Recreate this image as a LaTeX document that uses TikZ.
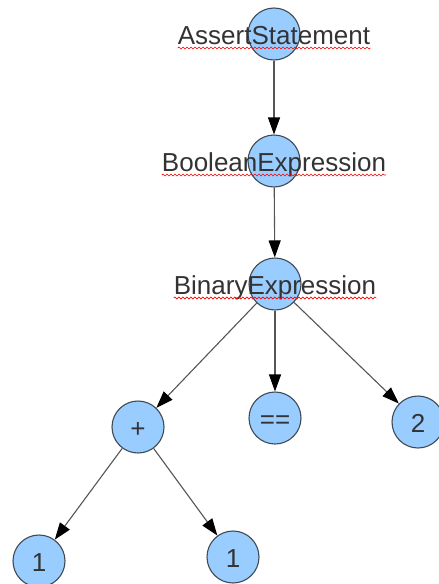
\documentclass[tikz,border=0pt]{standalone}
\usepackage{fontspec}
\setmainfont{Liberation Sans}
\usetikzlibrary{arrows.meta,decorations.pathmorphing}
\definecolor{nodefill}{HTML}{99CCFF}
\definecolor{nodeline}{HTML}{3F4A55}
\definecolor{labeltext}{HTML}{333333}
\definecolor{edgeline}{HTML}{555555}
\begin{document}
\begin{tikzpicture}[x=1pt,y=-1pt,
  treenode/.style={circle,draw=nodeline,line width=1.1pt,fill=nodefill,
    minimum size=52pt,inner sep=0pt},
  nodetext/.style={anchor=base,inner sep=0pt,text=labeltext,
    font=\fontsize{26}{30}\selectfont},
  conn/.style={draw=edgeline,line width=1.1pt,
    -{Triangle[length=17pt,width=12pt,fill=black,color=black]}},
  wave/.style={draw=red,line width=0.6pt,decorate,
    decoration={snake,amplitude=1pt,segment length=4pt}}]
\useasboundingbox (0,0) rectangle (439,584);

% tree nodes
\node[treenode] (assert) at (274,34) {};
\node[treenode] (bool)   at (274,161) {};
\node[treenode] (binary) at (275,284) {};
\node[treenode] (plus)   at (138,427) {};
\node[treenode] (eq)     at (275,418) {};
\node[treenode] (two)    at (418,422) {};
\node[treenode] (oneL)   at (39,561) {};
\node[treenode] (oneR)   at (233,557) {};

% edges
\draw[conn] (assert) -- (bool);
\draw[conn] (bool) -- (binary);
\draw[conn] (binary) -- (plus);
\draw[conn] (binary) -- (eq);
\draw[conn] (binary) -- (two);
\draw[conn] (plus) -- (oneL);
\draw[conn] (plus) -- (oneR);

% labels over the nodes
\node[nodetext] (assertT) at ([yshift=-10pt]assert.center) {AssertStatement};
\node[nodetext] (boolT)   at ([yshift=-10pt]bool.center)   {BooleanExpression};
\node[nodetext] (binaryT) at ([yshift=-10pt]binary.center) {BinaryExpression};
\node[nodetext] (plusT)   at ([yshift=-10pt]plus.center)   {+};
\node[nodetext] (eqT)     at ([yshift=-10pt]eq.center)     {==};
\node[nodetext] (twoT)    at ([yshift=-10pt]two.center)    {2};
\node[nodetext] (oneLT)   at ([yshift=-10pt]oneL.center)   {1};
\node[nodetext] (oneRT)   at ([yshift=-10pt]oneR.center)   {1};

% spell-check squiggles under the long words
\draw[wave] ([yshift=-4pt]assertT.base west) -- ([yshift=-4pt]assertT.base east);
\draw[wave] ([yshift=-4pt]boolT.base west) -- ([yshift=-4pt]boolT.base east);
\draw[wave] ([yshift=-4pt]binaryT.base west) -- ([yshift=-4pt]binaryT.base east);
\end{tikzpicture}
\end{document}
